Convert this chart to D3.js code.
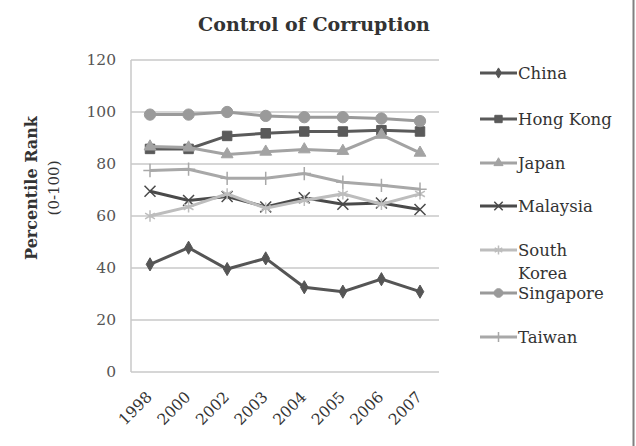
<!DOCTYPE html>
<html>
<head>
<meta charset="utf-8">
<script src="https://cdn.jsdelivr.net/npm/d3@7"></script>
<style>
  body { margin: 0; background: #fff; }
  text { font-family: "DejaVu Serif", "Liberation Serif", serif; }
</style>
</head>
<body>
<div id="chart"></div>
<script>
const years = ["1998", "2000", "2002", "2003", "2004", "2005", "2006", "2007"];
const yTicks = [0, 20, 40, 60, 80, 100, 120];

const china = [41.4, 47.8, 39.6, 43.7, 32.6, 30.9, 35.7, 30.9];
const hongKong = [85.8, 85.8, 90.8, 91.8, 92.5, 92.5, 93, 92.5];
const japan = [86.7, 86.3, 83.7, 84.7, 85.6, 85, 91.2, 84.3];
const malaysia = [69.5, 66, 67.5, 63.5, 67, 64.5, 65, 62.5];
const southKorea = [60, 63.5, 68.5, 63, 66, 68.5, 64.5, 68.5];
const singapore = [99, 99, 100, 98.5, 98, 98, 97.5, 96.5];
const taiwan = [77.5, 78, 74.5, 74.5, 76.3, 73, 71.8, 70.3];

const series = [
    {name: "China", values: china, color: "#555", marker: "diamond"},
    {name: "Hong Kong", values: hongKong, color: "#5a5a5a", marker: "square"},
    {name: "Japan", values: japan, color: "#a3a3a3", marker: "triangle"},
    {name: "Malaysia", values: malaysia, color: "#4a4a4a", marker: "x"},
    {name: "South Korea", values: southKorea, color: "#bdbdbd", marker: "star"},
    {name: "Singapore", values: singapore, color: "#9a9a9a", marker: "circle"},
    {name: "Taiwan", values: taiwan, color: "#a8a8a8", marker: "plus"}
];

const W = 636, H = 446;
const MARGIN = {LEFT: 131, RIGHT: 196, TOP: 60, BOTTOM: 74};

const svg = d3.select("#chart").append("svg")
    .attr("width", W)
    .attr("height", H);

const x = d3.scalePoint().domain(years)
    .range([150, 420]);
const y = d3.scaleLinear().domain([0, 120])
    .range([372, 60]);

// gridlines
svg.append("g")
    .selectAll("line")
    .data(yTicks.filter(d => d > 0))
    .enter().append("line")
    .attr("x1", MARGIN.LEFT)
    .attr("x2", 439)
    .attr("y1", d => y(d))
    .attr("y2", d => y(d))
    .attr("stroke", "#c8c8c8")
    .attr("stroke-width", 1.5);

// axes lines
svg.append("line")
    .attr("x1", MARGIN.LEFT).attr("x2", 439)
    .attr("y1", y(0)).attr("y2", y(0))
    .attr("stroke", "#c8c8c8").attr("stroke-width", 1.5);
svg.append("line")
    .attr("x1", MARGIN.LEFT).attr("x2", MARGIN.LEFT)
    .attr("y1", y(120)).attr("y2", y(0))
    .attr("stroke", "#c8c8c8").attr("stroke-width", 1.5);

// y tick labels
svg.append("g")
    .selectAll("text")
    .data(yTicks)
    .enter().append("text")
    .attr("x", 116)
    .attr("y", d => y(d) + 5)
    .attr("text-anchor", "end")
    .attr("font-size", 15.5)
    .attr("fill", "#555")
    .text(d => d);

// x tick labels
svg.append("g")
    .selectAll("text")
    .data(years)
    .enter().append("text")
    .attr("transform", d => `translate(${x(d) + 3}, ${398}) rotate(-45)`)
    .attr("text-anchor", "end")
    .attr("font-size", 15.5)
    .attr("fill", "#333")
    .text(d => d);

// title
svg.append("text")
    .attr("x", 314)
    .attr("y", 31)
    .attr("text-anchor", "middle")
    .attr("font-size", 19)
    .attr("font-weight", "bold")
    .attr("fill", "#333")
    .text("Control of Corruption");

// y axis title
const yTitle = svg.append("text")
    .attr("transform", "translate(37, 188) rotate(-90)")
    .attr("text-anchor", "middle")
    .attr("fill", "#333");
yTitle.append("tspan").attr("x", 0).attr("dy", 0)
    .attr("font-size", 16)
    .attr("font-weight", "bold").text("Percentile Rank");
yTitle.append("tspan").attr("x", 0).attr("dy", 22)
    .attr("font-size", 15)
    .text("(0-100)");

const sizeFor = {diamond: 50, square: 90, triangle: 60, x: 80, star: 90, circle: 100, plus: 60};

function drawMarker(g, s, size) {
    const stroked = s.marker === "x" || s.marker === "star" || s.marker === "plus";
    const sym = {
        diamond: d3.symbolDiamond,
        square: d3.symbolSquare,
        triangle: d3.symbolTriangle,
        x: d3.symbolX,
        star: d3.symbolAsterisk,
        circle: d3.symbolCircle,
        plus: d3.symbolPlus
    }[s.marker];
    g.append("path")
        .attr("d", d3.symbol().type(sym).size(size)())
        .attr("fill", stroked ? "none" : s.color)
        .attr("stroke", s.color)
        .attr("stroke-width", stroked ? 1.5 : 1);
}

const line = d3.line()
    .x((d, i) => x(years[i]))
    .y(d => y(d));

series.forEach(s => {
    const g = svg.append("g");
    g.append("path")
        .attr("d", line(s.values))
        .attr("fill", "none")
        .attr("stroke", s.color)
        .attr("stroke-width", 3);
    s.values.forEach((v, i) => {
        const m = g.append("g").attr("transform", `translate(${x(years[i])}, ${y(v)})`);
        drawMarker(m, s, sizeFor[s.marker]);
    });
});

// legend
const legend = svg.append("g");
const legendY = [73, 119, 163, 206, 250, 293, 337];
series.forEach((s, i) => {
    const g = legend.append("g").attr("transform", `translate(480, ${legendY[i]})`);
    g.append("line")
        .attr("x1", 0).attr("x2", 37)
        .attr("stroke", s.color)
        .attr("stroke-width", 3);
    const m = g.append("g").attr("transform", "translate(18.5, 0)");
    drawMarker(m, s, sizeFor[s.marker] * 0.6);
    const words = s.name === "South Korea" ? ["South", "Korea"] : [s.name];
    words.forEach((w, j) => {
        g.append("text")
            .attr("x", 38)
            .attr("y", 6 + j * 23)
            .attr("font-size", 16.5)
            .attr("fill", "#333")
            .text(w);
    });
});

// right border
svg.append("line")
    .attr("x1", 633.5).attr("x2", 633.5)
    .attr("y1", 0).attr("y2", H)
    .attr("stroke", "#808080")
    .attr("stroke-width", 2);
</script>
</body>
</html>
